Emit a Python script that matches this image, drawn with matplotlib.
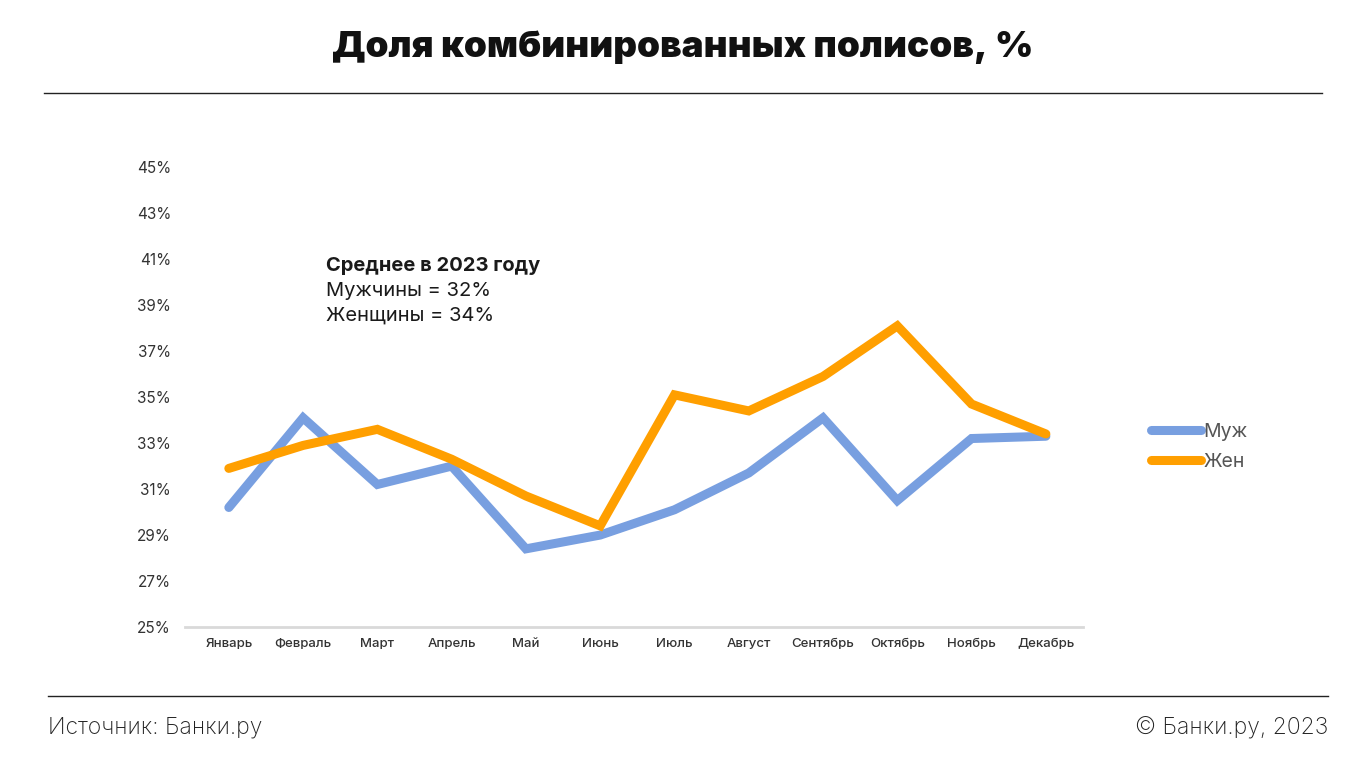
import matplotlib.pyplot as plt
from matplotlib.lines import Line2D

plt.rcParams["font.family"] = ["Inter", "DejaVu Sans"]

MONTHS = ["Январь", "Февраль", "Март", "Апрель", "Май", "Июнь",
          "Июль", "Август", "Сентябрь", "Октябрь", "Ноябрь", "Декабрь"]
MEN = [30.2, 34.1, 31.2, 32.0, 28.4, 29.0, 30.1, 31.7, 34.1, 30.5, 33.2, 33.3]
WOMEN = [31.9, 32.9, 33.6, 32.3, 30.7, 29.4, 35.1, 34.4, 35.9, 38.1, 34.7, 33.4]
Y_TICKS = list(range(25, 46, 2))

BLUE = "#789FE0"
ORANGE = "#FF9F00"

W, H = 1366, 761
fig = plt.figure(figsize=(W / 100, H / 100), dpi=100)

# axes placed in pixel terms
left, right, top, bottom = 185, 1083, 165, 627
ax = fig.add_axes([left / W, 1 - bottom / H, (right - left) / W, (bottom - top) / H])

x = range(len(MONTHS))
ax.plot(x, MEN, color=BLUE, lw=6.5, solid_capstyle="round", solid_joinstyle="miter", zorder=3)
ax.plot(x, WOMEN, color=ORANGE, lw=6.5, solid_capstyle="round", solid_joinstyle="miter", zorder=4)

ax.set_xlim(-0.59, 11.5)
ax.set_ylim(25, 45.1)
ax.set_yticks(Y_TICKS)
ax.set_yticklabels([f"{t}%" for t in Y_TICKS], fontsize=11, color="#333333")
ax.set_xticks(list(x))
ax.set_xticklabels(MONTHS, fontsize=9.5, color="#333333", fontweight="medium")
ax.tick_params(length=0)
ax.tick_params(axis="y", pad=10)
ax.tick_params(axis="x", pad=8)
for s in ["top", "right", "left"]:
    ax.spines[s].set_visible(False)
ax.spines["bottom"].set_color("#d9d9d9")
ax.spines["bottom"].set_linewidth(2)

# annotation
ax.text(1.31, 40.7, "Среднее в 2023 году", fontsize=14.5, fontweight="bold",
        color="#1a1a1a", va="center")
ax.text(1.31, 39.6, "Мужчины = 32%", fontsize=14.5, color="#1a1a1a", va="center")
ax.text(1.31, 38.55, "Женщины = 34%", fontsize=14.5, color="#1a1a1a", va="center")

# legend
handles = [Line2D([], [], color=BLUE, lw=6.5, solid_capstyle="round"),
           Line2D([], [], color=ORANGE, lw=6.5, solid_capstyle="round")]
fig.legend(handles, ["Муж", "Жен"], loc="center left",
           bbox_to_anchor=(1133 / W, 1 - 447 / H), frameon=False,
           fontsize=14, labelcolor="#555555", handlelength=2.6,
           handletextpad=0.12, labelspacing=0.6)

# title and rules
fig.text(0.5, 1 - 47 / H, "Доля комбинированных полисов, %", ha="center",
         va="center", fontsize=26.5, fontweight=900, color="#111111")
fig.add_artist(Line2D([44 / W, 1322 / W], [1 - 93 / H] * 2, color="#222222", lw=1))
fig.add_artist(Line2D([48 / W, 1328 / W], [1 - 696 / H] * 2, color="#222222", lw=1))

fig.text(48 / W, 1 - 728 / H, "Источник: Банки.ру", ha="left", va="center",
         fontsize=16.5, color="#222222", fontweight="light")
fig.text(1328 / W, 1 - 728 / H, "© Банки.ру, 2023", ha="right", va="center",
         fontsize=16.5, color="#222222", fontweight="light")

fig.savefig("out.png", dpi=100, facecolor="white")
